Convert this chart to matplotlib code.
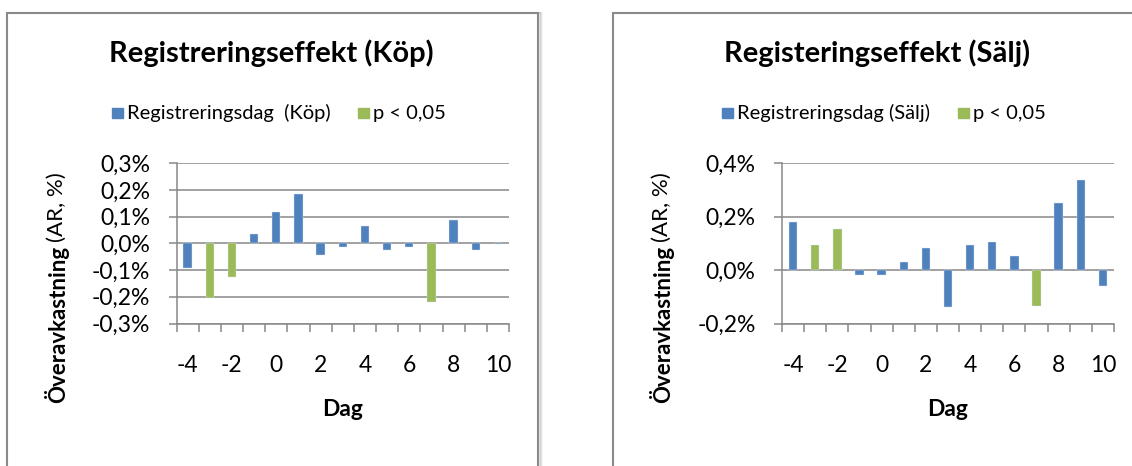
import numpy as np
import matplotlib.pyplot as plt
from matplotlib.patches import Rectangle
from matplotlib.ticker import FuncFormatter

plt.rcParams['font.family'] = ['Lato', 'DejaVu Sans']

# Data (abnormal return in %)
days = [-4, -3, -2, -1, 0, 1, 2, 3, 4, 5, 6, 7, 8, 9, 10]
ar_kop = [-0.091, -0.204, -0.126, 0.037, 0.117, 0.185, -0.044, -0.013, 0.065,
          -0.025, -0.015, -0.221, 0.089, -0.026, -0.002]
ar_salj = [0.179, 0.095, 0.153, -0.019, -0.018, 0.029, 0.083, -0.140, 0.095,
           0.105, 0.053, -0.134, 0.250, 0.336, -0.059]
sig_days = [-3, -2, 7]  # p < 0,05

xtick_days = [-4, -2, 0, 2, 4, 6, 8, 10]
kop_yticks = [-0.3, -0.2, -0.1, 0.0, 0.1, 0.2, 0.3]
salj_yticks = [-0.2, 0.0, 0.2, 0.4]

BLUE = '#4F81BD'
GREEN = '#9BBB59'
GRID = '#888888'
W, H = 1132, 466

fig = plt.figure(figsize=(W / 100, H / 100), dpi=100)


def px(x, y):
    """pixel coords (from top-left) -> figure fraction"""
    return x / W, 1 - y / H


def pct(v, pos=None):
    s = f"{v:.1f}%".replace('.', ',')
    return '0,0%' if s == '-0,0%' else s


def draw_box(x0, x1, y0):
    # soft shadow on the right / bottom, then frame (behind the axes)
    for i, a in enumerate([0.10, 0.07, 0.04]):
        fig.patches.append(Rectangle(px(x0 + 2 + i, 600), (x1 - x0) / W, (600 - y0) / H,
                                     transform=fig.transFigure, facecolor='none',
                                     edgecolor='black', alpha=a, lw=1.5, zorder=-3))
    fig.patches.append(Rectangle(px(x0, 600), (x1 - x0) / W, (600 - y0) / H,
                                 transform=fig.transFigure, facecolor='white',
                                 edgecolor='#8a8a8a', lw=1.5, zorder=-2))


def chart(left, right, values, yticks, title, title_x, leg):
    top, bottom = 163.3, 323.5
    x0, y0 = px(left, bottom)
    ax = fig.add_axes([x0, y0, (right - left) / W, (bottom - top) / H])
    ax.patch.set_alpha(0)
    colors = [GREEN if d in sig_days else BLUE for d in days]
    ax.bar(days, values, width=0.38, color=colors, edgecolor='#dbe5f1', linewidth=0.3, zorder=3)
    ax.set_xlim(days[0] - 0.5, days[-1] + 0.5)
    ax.set_ylim(yticks[0], yticks[-1])
    ax.set_yticks(yticks)
    ax.yaxis.set_major_formatter(FuncFormatter(pct))
    ax.set_xticks(xtick_days)
    ax.set_xticklabels([str(d) for d in xtick_days])
    ax.set_xticks(np.arange(days[0] - 0.5, days[-1] + 1), minor=True)
    ax.grid(axis='y', color=GRID, lw=1.1, zorder=0)
    for s in ['top', 'right']:
        ax.spines[s].set_visible(False)
    for s in ['left', 'bottom']:
        ax.spines[s].set_color(GRID)
        ax.spines[s].set_linewidth(1.1)
    ax.tick_params(axis='y', length=6, width=1.1, color=GRID, pad=13, labelsize=16.5)
    ax.tick_params(axis='x', which='major', length=0, pad=23, labelsize=16.5)
    ax.tick_params(axis='x', which='minor', length=6, width=1.1, color=GRID)

    fig.text(*px(title_x, 53), title, ha='center', va='center',
             fontsize=21, fontweight='bold')
    fig.text(*px((left + right) / 2, 410), 'Dag', ha='center', va='center',
             fontsize=16.5, fontweight='bold')

    # y label: bold word + regular part
    ylx = left - 120
    t1 = fig.text(*px(ylx, 403), 'Överavkastning', rotation=90, ha='center',
                  va='bottom', fontsize=16, fontweight='bold')
    bb = t1.get_window_extent(fig.canvas.get_renderer())
    fig.text(*px(ylx, H - bb.y1 - 4), '(AR, %)', rotation=90, ha='center',
             va='bottom', fontsize=16)

    # legend
    (bx, blab), (gx, glab) = leg
    for sx, col, lab in [(bx, BLUE, blab), (gx, GREEN, glab)]:
        fig.patches.append(Rectangle(px(sx, 118), 10.5 / W, 10.5 / H,
                                     transform=fig.transFigure, color=col))
        fig.text(*px(sx + 15, 113), lab, ha='left', va='center', fontsize=14.5)
    return ax


draw_box(7, 538, 13)
draw_box(613, 1200, 13)

chart(176.5, 509, ar_kop, kop_yticks, 'Registreringseffekt (Köp)', 271.5,
      [(112, 'Registreringsdag  (Köp)'), (358, 'p < 0,05')])
chart(782, 1114, ar_salj, salj_yticks, 'Registeringseffekt (Sälj)', 877.5,
      [(722, 'Registreringsdag (Sälj)'), (958, 'p < 0,05')])

plt.savefig('out.png', dpi=100)
